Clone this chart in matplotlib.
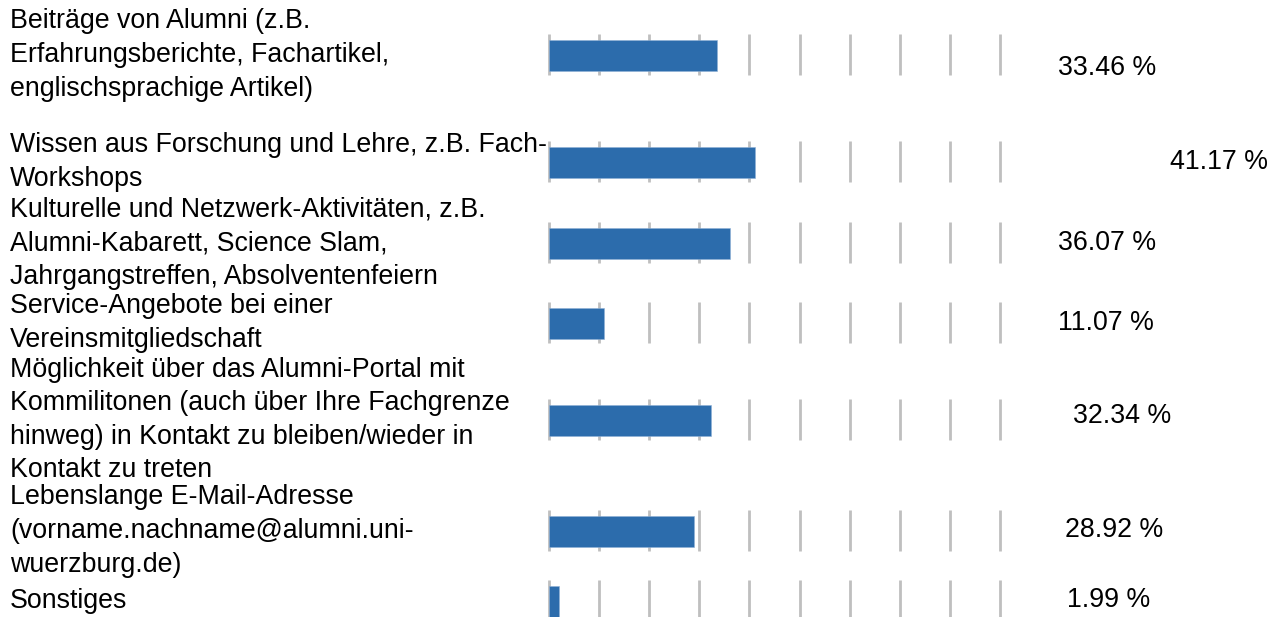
import matplotlib
matplotlib.use('Agg')
import matplotlib.pyplot as plt

categories = [
    'Beiträge von Alumni (z.B.\nErfahrungsberichte, Fachartikel,\nenglischsprachige Artikel)',
    'Wissen aus Forschung und Lehre, z.B. Fach-\nWorkshops',
    'Kulturelle und Netzwerk-Aktivitäten, z.B.\nAlumni-Kabarett, Science Slam,\nJahrgangstreffen, Absolventenfeiern',
    'Service-Angebote bei einer\nVereinsmitgliedschaft',
    'Möglichkeit über das Alumni-Portal mit\nKommilitonen (auch über Ihre Fachgrenze\nhinweg) in Kontakt zu bleiben/wieder in\nKontakt zu treten',
    'Lebenslange E-Mail-Adresse\n(vorname.nachname@alumni.uni-\nwuerzburg.de)',
    'Sonstiges',
]
values = [33.46, 41.17, 36.07, 11.07, 32.34, 28.92, 1.99]
grid_ticks = [0, 10, 20, 30, 40, 50, 60, 70, 80, 90]

# layout (pixels from top), the original is laid out row by row
row_y = [55, 162, 243, 323, 420, 531, 601]
pct_pos = [(1058, 68), (1170, 162), (1058, 243), (1058, 323), (1073, 416), (1065, 530), (1067, 600)]

W, H = 1273, 617
x0, x90 = 549, 1000
ppu = (x90 - x0) / 90.0  # pixels per percent

plt.rcParams['font.family'] = ['Liberation Sans', 'DejaVu Sans']
fs = 19.3

fig = plt.figure(figsize=(W / 100, H / 100), dpi=100)
ax = fig.add_axes([0, 0, 1, 1])
ax.set_xlim(-x0 / ppu, (W - x0) / ppu)
ax.set_ylim(H, 0)
ax.axis('off')

def px(x):
    return (x - x0) / ppu

bar_h = 31
for i, (cat, v) in enumerate(zip(categories, values)):
    y = row_y[i]
    ax.vlines(grid_ticks, y - 21, y + 20, color='#BFBFBF', lw=2, zorder=1)
    ax.barh(y, v, height=bar_h, color='#2C6CAC', edgecolor='#8FB0D6', lw=0.4, zorder=2)
    ax.text(px(10), y, cat, ha='left', va='center', fontsize=fs,
            linespacing=1.38, color='black', zorder=3)
    tx, ty = pct_pos[i]
    ax.text(px(tx), ty, f'{v:.2f} %', ha='left', va='center', fontsize=fs, color='black')

fig.savefig('out.png', dpi=100)
